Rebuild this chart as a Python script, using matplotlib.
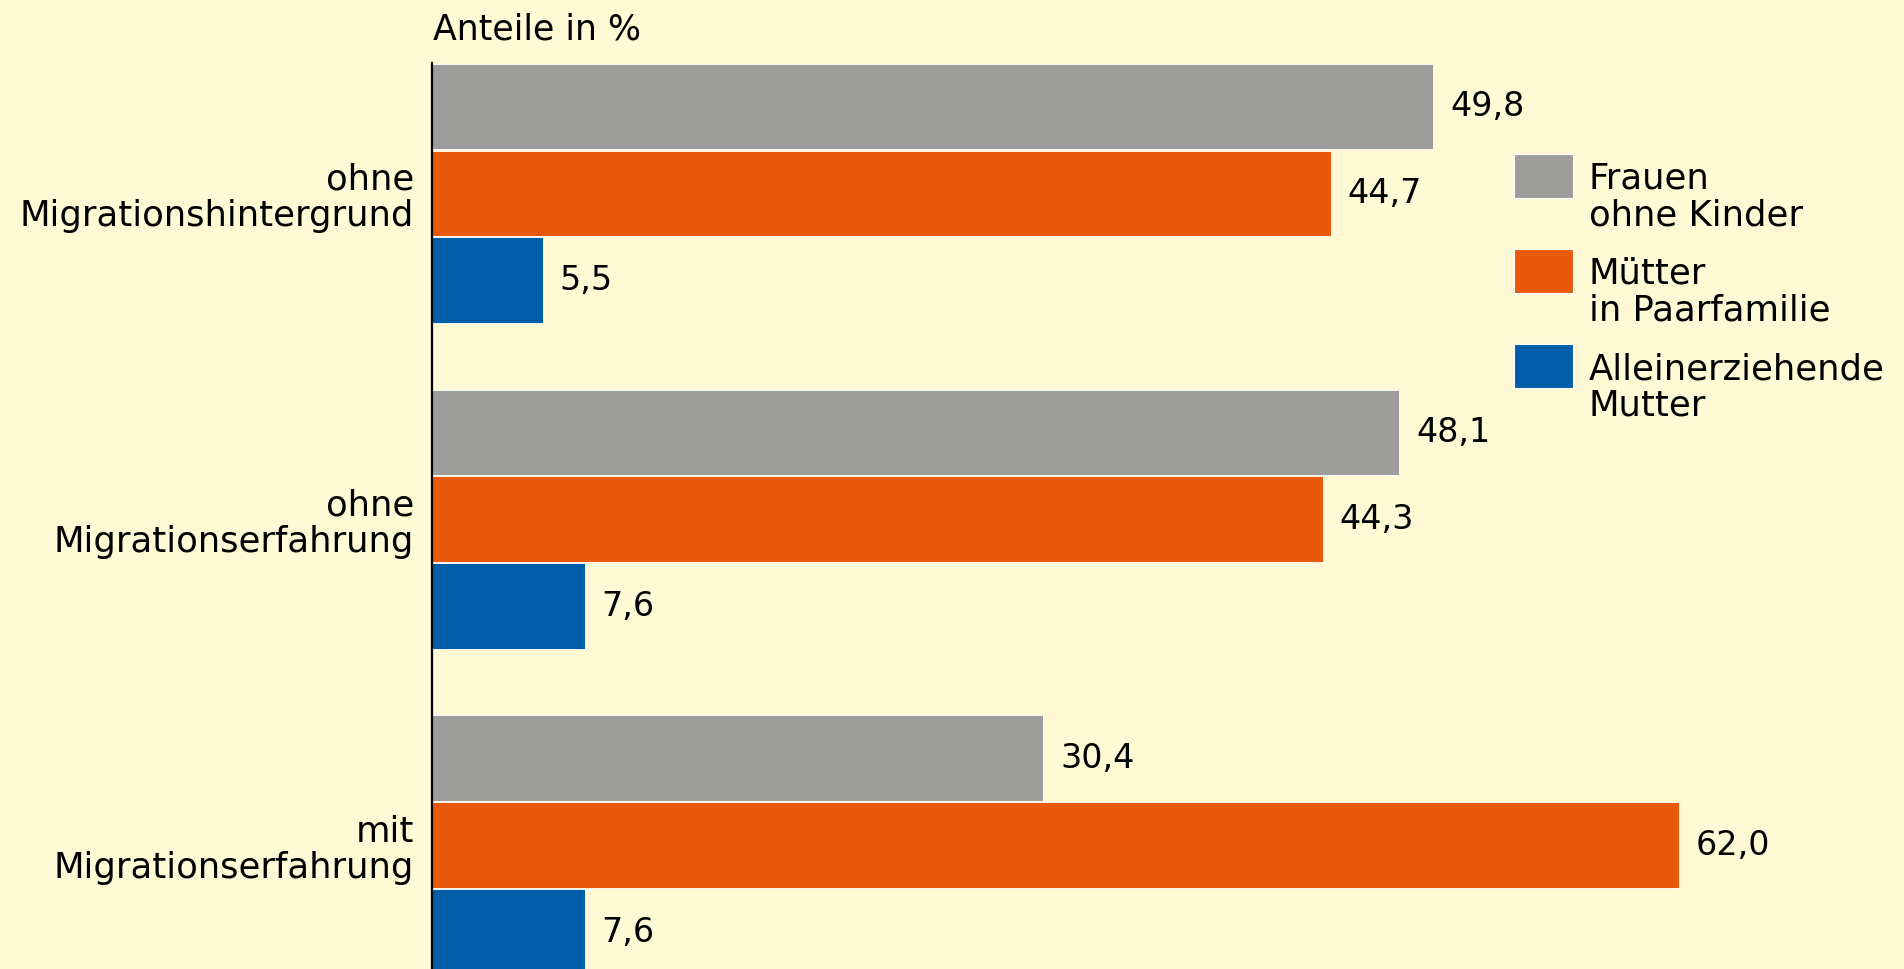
import matplotlib.pyplot as plt
from matplotlib.patches import Rectangle

categories = ["ohne\nMigrationshintergrund", "ohne\nMigrationserfahrung", "mit\nMigrationserfahrung"]
series_names = ["Frauen\nohne Kinder", "Mütter\nin Paarfamilie", "Alleinerziehende\nMutter"]
frauen_ohne_kinder = [49.8, 48.1, 30.4]
muetter_paarfamilie = [44.7, 44.3, 62.0]
alleinerziehende = [5.5, 7.6, 7.6]

colors = ['#9D9D9C', '#E8590C', '#005EA8']
bg = '#FFF9D5'

W, H = 1904, 969
plt.rcParams['font.family'] = 'DejaVu Sans'

fig = plt.figure(figsize=(W / 100, H / 100), dpi=100, facecolor=bg)

# axes from the left spine (x=432px) to the right edge, top at 63px
ax = fig.add_axes([432 / W, 0, 1 - 432 / W, (H - 63) / H])
ax.set_facecolor(bg)

group_gap = 3.75
series = [frauen_ohne_kinder, muetter_paarfamilie, alleinerziehende]
for k, values in enumerate(series):
    ys = [g * group_gap + k for g in range(len(categories))]
    bars = ax.barh(ys, values, height=0.985, color=colors[k], edgecolor='white', linewidth=0.6)
    for y, v in zip(ys, values):
        ax.annotate(f"{v:.1f}".replace(".", ","), (v, y), xytext=(12, 0),
                    textcoords='offset points', va='center', ha='left', fontsize=24)

ax.set_xlim(0, (W - 432) / 20.11)
ax.set_ylim(-0.5 + (H - 63) / 86.9, -0.5)

ax.set_yticks([g * group_gap + 1 for g in range(len(categories))])
ax.set_yticklabels(categories, fontsize=25.5)
for lab in ax.get_yticklabels():
    lab.set_linespacing(1.08)
    lab.set_multialignment('right')
ax.tick_params(axis='y', length=0, pad=13)
ax.set_xticks([])

for s in ['top', 'right', 'bottom']:
    ax.spines[s].set_visible(False)
ax.spines['left'].set_linewidth(1.6)
ax.spines['left'].set_color('black')

fig.text(433 / W, 1 - 39 / H, "Anteile in %", fontsize=25, ha='left', va='baseline')

# legend drawn by hand: square patch on the left, two-line text next to it
for k, name in enumerate(series_names):
    top = 154 + k * 95
    fig.patches.append(Rectangle((1514 / W, 1 - (top + 44) / H), 59 / W, 44 / H,
                                 transform=fig.transFigure, facecolor=colors[k],
                                 edgecolor='white', linewidth=0.8))
    fig.text(1589 / W, 1 - (top + 8) / H, name, fontsize=25.5, ha='left', va='top',
             linespacing=1.08)

fig.savefig('out.png', dpi=100, facecolor=bg)
